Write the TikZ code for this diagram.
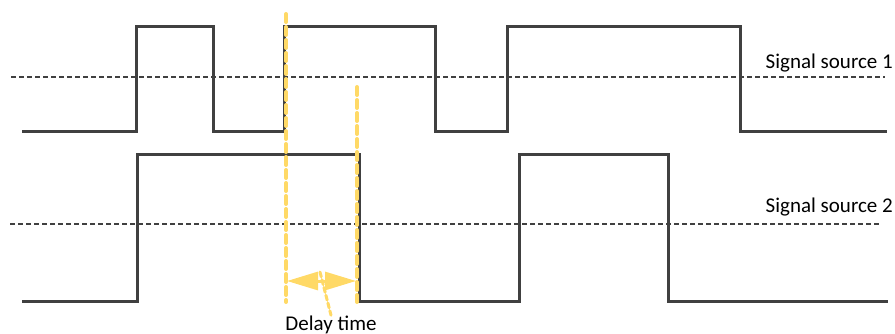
\documentclass[tikz,border=0pt]{standalone}
\usepackage{fontspec}
\setsansfont{Carlito}
\usepackage{tikz}
\usetikzlibrary{arrows.meta, positioning}
\definecolor{wavecolor}{RGB}{64, 64, 64}
\definecolor{delaycolor}{RGB}{255, 217, 102}

\begin{document}
\begin{tikzpicture}[
  x=1pt, y=-1pt,
  font=\sffamily\fontsize{21}{25}\selectfont,
  wave/.style={draw=wavecolor, line width=3pt},
  threshold/.style={draw=wavecolor, line width=2pt, dash pattern=on 5pt off 3pt},
  delayline/.style={draw=delaycolor, line width=4pt, line cap=round, dash pattern=on 8pt off 5pt},
  delayarrow/.style={draw=delaycolor, fill=delaycolor, line width=3pt, {Triangle[length=31pt, width=18pt]}-{Triangle[length=31pt, width=18pt]}},
  sourcelabel/.style={inner sep=0pt, anchor=base east}
]
\useasboundingbox (0,0) rectangle (895,334);

% signal source 1
\draw[wave] (22,132) -| (136,27) -| (213,132) -| (284,27) -| (435,132) -| (507,27) -| (740,132) -- (887,132);
\draw[threshold] (11,77) -- (885,77);
\node[sourcelabel] (src1) at (893,69) {Signal source 1};

% signal source 2
\draw[wave] (22,301) -| (137,155) -| (359,301) -| (519,155) -| (668,301) -- (888,301);
\draw[threshold] (10,224) -- (880,224);
\node[sourcelabel] (src2) at (893,212) {Signal source 2};

% delay markers
\coordinate (top1) at (286,14);
\coordinate (bot1) at (286,302);
\coordinate (top2) at (357,87);
\coordinate (bot2) at (357,302);
\draw[delayline] (top1) -- (bot1);
\draw[delayline] (top2) -- (bot2);
\coordinate (arrowL) at (287,281);
\coordinate (arrowR) at (356,281);
\draw[delayarrow] (arrowL) -- (arrowR);
\coordinate (leadtop) at (320,272);
\node[inner sep=0pt, anchor=base] (delay) at (331,330) {Delay time};
\draw[delayline, line width=3pt, dash pattern=on 5pt off 3pt] (leadtop) -- (delay.north);
\end{tikzpicture}
\end{document}
